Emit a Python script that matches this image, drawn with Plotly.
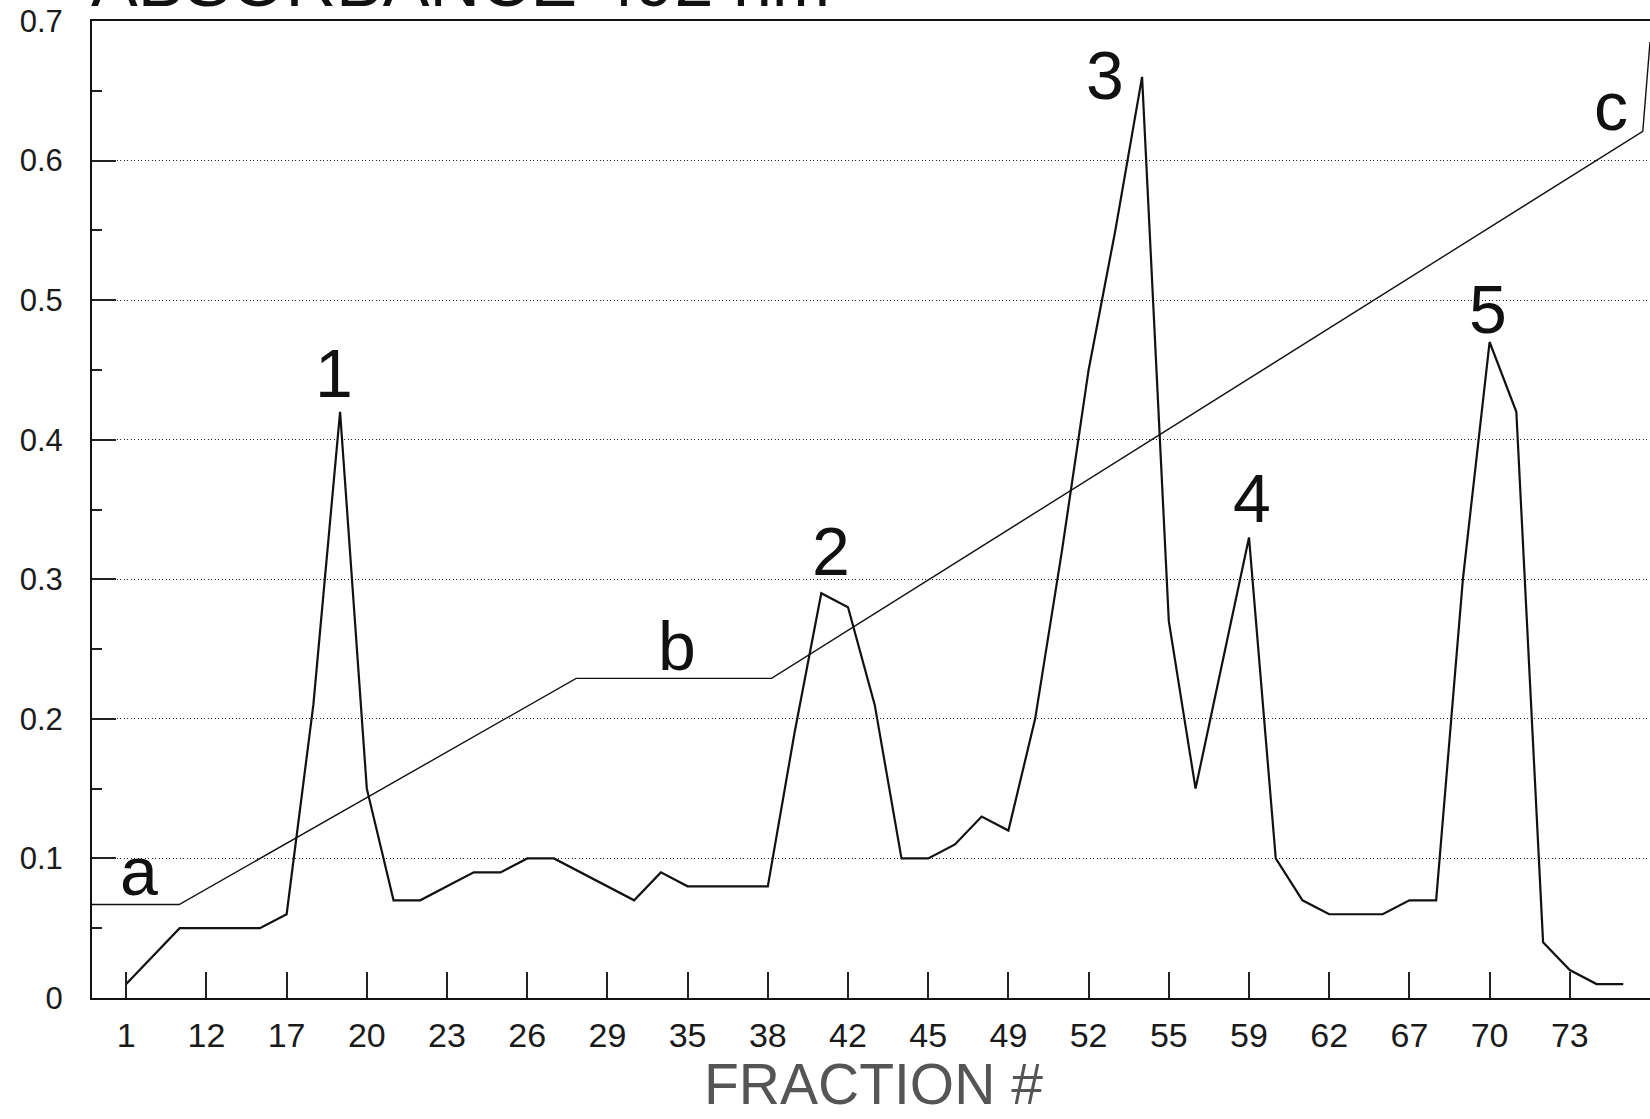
import plotly.graph_objects as go

# ---- data ----
tick_labels = ["1", "12", "17", "20", "23", "26", "29", "35", "38", "42",
               "45", "49", "52", "55", "59", "62", "67", "70", "73"]
tick_positions = list(range(0, 3 * len(tick_labels), 3))

absorbance = [0.01, 0.03, 0.05, 0.05, 0.05, 0.05, 0.06, 0.21, 0.42, 0.15,
              0.07, 0.07, 0.08, 0.09, 0.09, 0.10, 0.10, 0.09, 0.08, 0.07,
              0.09, 0.08, 0.08, 0.08, 0.08, 0.19, 0.29, 0.28, 0.21, 0.10,
              0.10, 0.11, 0.13, 0.12, 0.20, 0.32, 0.45, 0.55, 0.66, 0.27,
              0.15, 0.24, 0.33, 0.10, 0.07, 0.06, 0.06, 0.06, 0.07, 0.07,
              0.30, 0.47, 0.42, 0.04, 0.02, 0.01, 0.01]
sample_index = list(range(len(absorbance)))

# salt gradient profile (a -> b -> c)
gradient_x = [-1.28, 1.98, 16.83, 24.14, 56.73, 57.0]
gradient_y = [0.067, 0.067, 0.229, 0.229, 0.621, 0.685]

peak_labels = ["1", "2", "3", "4", "5", "a", "b", "c"]
peak_label_x = [7.77, 26.35, 36.61, 42.13, 50.94, 0.48, 20.62, 55.54]
peak_label_y = [0.448, 0.320, 0.661, 0.358, 0.494, 0.091, 0.252, 0.639]

y_ticks = [0, 0.1, 0.2, 0.3, 0.4, 0.5, 0.6, 0.7]
y_tick_text = ["0", "0.1", "0.2", "0.3", "0.4", "0.5", "0.6", "0.7"]
y_minor = [0.05, 0.15, 0.25, 0.35, 0.45, 0.55, 0.65]

FONT = "Liberation Sans, Arial, sans-serif"

fig = go.Figure()
fig.add_trace(go.Scatter(x=sample_index, y=absorbance, mode="lines",
                         line=dict(color="#111111", width=2.2),
                         showlegend=False, cliponaxis=True))
fig.add_trace(go.Scatter(x=gradient_x, y=gradient_y, mode="lines",
                         line=dict(color="#111111", width=1.4),
                         showlegend=False, cliponaxis=True))

for t, x, y in zip(peak_labels, peak_label_x, peak_label_y):
    fig.add_annotation(x=x, y=y, text=t, showarrow=False,
                       xanchor="center", yanchor="middle",
                       font=dict(family=FONT, size=68, color="#111111"))

# chart title (cut off by the top edge, as in the source scan)
fig.add_annotation(x=-0.002, y=1, xref="paper", yref="paper",
                   text="ABSORBANCE 492 nm", showarrow=False,
                   xanchor="left", yanchor="bottom", yshift=-2,
                   font=dict(family=FONT, size=70, color="#111111"))

# x-axis title
fig.add_annotation(x=0.5015, y=0, xref="paper", yref="paper",
                   text="FRACTION #", showarrow=False,
                   xanchor="center", yanchor="top", yshift=-52,
                   font=dict(family=FONT, size=57, color="#555555"))

fig.update_layout(
    width=1650, height=1119,
    margin=dict(l=92, r=0, t=21, b=121, autoexpand=False),
    paper_bgcolor="white", plot_bgcolor="white",
    showlegend=False,
    xaxis=dict(
        range=[-1.28, 57.0], automargin=False,
        tickmode="array", tickvals=tick_positions, ticktext=tick_labels,
        ticks="inside", ticklen=26, tickwidth=1.5, tickcolor="#222222",
        showline=True, linecolor="#111111", linewidth=2, mirror=True,
        showgrid=False, zeroline=False,
        tickfont=dict(family=FONT, size=34, color="#1a1a1a"),
        ticklabelstandoff=6,
    ),
    yaxis=dict(
        range=[0, 0.7], automargin=False,
        tickmode="array", tickvals=y_ticks, ticktext=y_tick_text,
        ticks="inside", ticklen=24, tickwidth=1.5, tickcolor="#222222",
        showline=True, linecolor="#111111", linewidth=2,
        showgrid=True, gridcolor="#222222", gridwidth=1.3, griddash="1px,2.5px",
        zeroline=False,
        tickfont=dict(family=FONT, size=31, color="#1a1a1a"),
        ticklabelstandoff=21,
        minor=dict(tickvals=y_minor, ticks="inside", ticklen=10,
                   tickwidth=1.5, tickcolor="#222222", showgrid=False),
    ),
)

fig.write_html("out.html")
